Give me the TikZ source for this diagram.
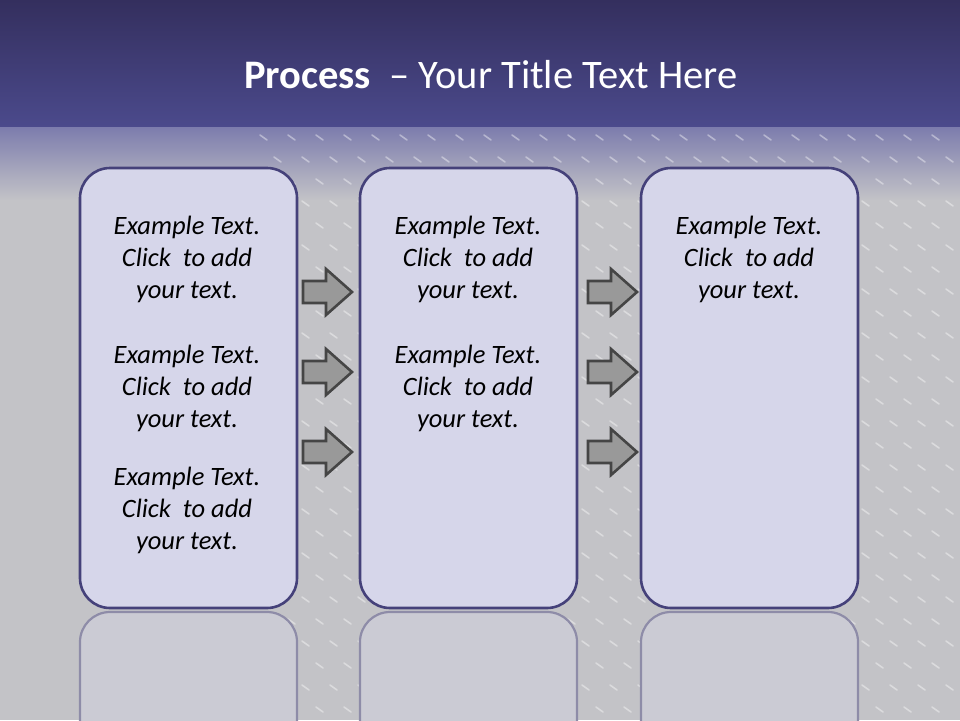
\documentclass[tikz,border=0pt]{standalone}
\usepackage{fontspec}
\setmainfont{Carlito}
\begin{document}
\begin{tikzpicture}[x=1pt,y=-1pt,
  procbox/.style={draw=boxline,line width=2.6pt,fill=boxfill,rounded corners=30pt,
    minimum width=217pt,minimum height=440pt,inner sep=0pt},
  reflbox/.style={draw=refline,line width=2.2pt,fill=reflfill,rounded corners=30pt},
  blockarrow/.style={draw=arrline,line width=2.6pt,fill=arrfill,line join=miter},
  bodytext/.style={font=\fontsize{26.5}{32}\selectfont\itshape,align=center,text=black,inner sep=0pt}]
\definecolor{boxline}{HTML}{45417A}
\definecolor{boxfill}{HTML}{D6D6EA}
\definecolor{refline}{HTML}{8E8CA8}
\definecolor{reflfill}{HTML}{CBCBD4}
\definecolor{arrline}{HTML}{454545}
\definecolor{arrfill}{HTML}{999999}
\definecolor{bgtop}{HTML}{342F5E}
\definecolor{bgmid}{HTML}{4B4A8C}
\definecolor{bgfade}{HTML}{7C7CAD}
\definecolor{bggrey}{HTML}{C3C3C7}
\useasboundingbox (0,0) rectangle (960,720);
% background
\fill[bggrey] (0,0) rectangle (960,720);
\shade[top color=bgtop,bottom color=bgmid] (0,0) rectangle (960,127);
\shade[top color=bgfade,bottom color=bggrey] (0,127) rectangle (960,200);
% texture of dashes
\foreach \r in {0,...,26}{
  \foreach \c in {0,...,24}{
    \pgfmathsetmacro{\xx}{260+\c*28+mod(\r,2)*14}
    \pgfmathsetmacro{\yy}{135+\r*22}
    \draw[white,opacity=0.4,line width=1.6pt,line cap=round] (\xx,\yy) -- ++(7,5);
  }
}
% reflections
\begin{scope}
\clip (0,600) rectangle (960,720);
\foreach \x in {80,360,641}{
  \draw[reflbox] (\x,612) rectangle ++(217,440);
}
\end{scope}
% boxes
\node[procbox] (b1) at (188.5,388) {};
\node[procbox] (b2) at (468.5,388) {};
\node[procbox] (b3) at (749.5,388) {};
% title
\node[text=white,font=\fontsize{40.5}{44}\selectfont,inner sep=0pt] (title) at (491,75)
  {\textbf{Process}\ \ – Your Title Text Here};
% texts
\newcommand{\ptext}{Example Text.\\Click\ \ to add\\your text.}
\foreach \n/\x/\y in {t1/187/259, t2/187/388, t3/187/510, t4/468/259, t5/468/388, t6/749/259}{
  \node[bodytext] (\n) at (\x,\y) {\ptext};
}
% block arrows
\foreach \ax/\ay in {303/292, 303/372, 303/452, 588/292, 588/372, 588/452}{
  \draw[blockarrow] (\ax,\ay-11) -- ++(23,0) -- ++(0,-12) -- (\ax+49,\ay) -- (\ax+23,\ay+23)
    -- ++(0,-12) -- (\ax,\ay+11) -- cycle;
}
\end{tikzpicture}
\end{document}
